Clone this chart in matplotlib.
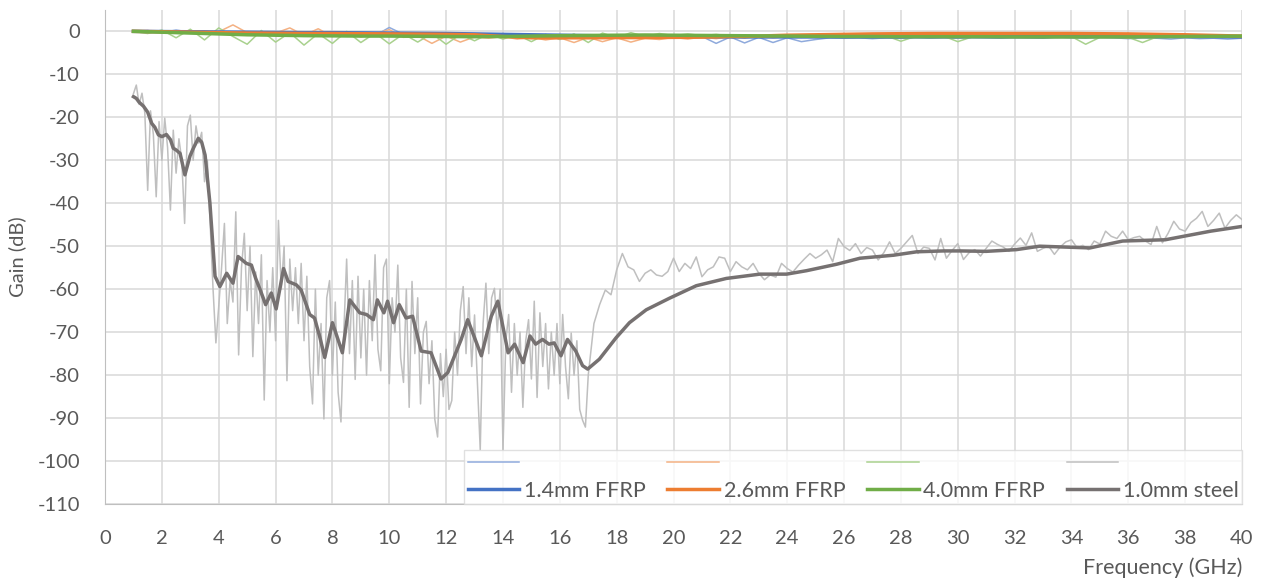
import matplotlib
matplotlib.use("Agg")
import matplotlib.pyplot as plt
import numpy as np

# ---- data ----
# FFRP raw traces, 1.0 .. 40.0 GHz every 0.5 GHz
ffrp14_raw = [0.0, 0.2, -0.3, 0.3, -0.2, 0.1, -0.5, -0.2, -0.6, -0.3,
              -0.8, -0.4, -0.9, -0.5, -0.6, -0.9, -0.4, -1.0, 0.9, -0.7,
              -0.8, -1.1, -0.6, -1.3, -0.8, -1.2, -0.9, -1.4, -1.0, -1.5,
              -1.1, -1.3, -1.0, -1.4, -1.1, -1.5, -1.2, -1.4, -1.3, -1.5,
              -1.2, -2.8, -1.3, -2.7, -1.4, -2.6, -1.5, -2.4, -1.9, -1.5,
              -1.6, -1.5, -1.7, -1.5, -1.6, -1.4, -1.6, -1.5, -1.6, -1.4,
              -1.5, -1.6, -1.4, -1.5, -1.6, -1.3, -1.5, -1.6, -1.4, -1.5,
              -1.7, -1.5, -1.6, -1.8, -1.5, -1.7, -1.6, -1.8, -1.6]
ffrp26_raw = [0.0, -0.2, 0.1, -0.4, 0.2, -0.6, -0.1, 1.5, -0.3, -0.9,
              -0.4, 0.8, -0.9, 0.6, -1.2, -0.5, -1.3, -0.6, 0.4, -1.4,
              -1.0, -2.8, -1.1, -2.5, -1.3, -1.6, -1.2, -1.8, -1.4, -2.0,
              -1.5, -2.6, -1.4, -2.4, -1.5, -2.5, -1.6, -1.9, -1.4, -1.8,
              -1.3, -1.7, -1.2, -1.6, -1.1, -1.5, -1.2, -1.4, -1.0, -1.3,
              -0.9, -1.2, -0.8, -1.1, -0.7, -1.0, -0.6, -0.9, -0.6, -0.8,
              -0.5, -0.9, -0.6, -0.8, -0.5, -0.9, -0.6, -0.8, -0.7, -1.0,
              -1.6, -0.9, -1.2, -1.0, -1.3, -1.1, -1.4, -1.2, -1.5]
ffrp40_raw = [0.0, -0.5, 0.3, -1.5, 0.5, -2.0, 0.8, -1.2, -3.0, 0.2,
              -2.5, -0.3, -3.2, -0.5, -2.8, 0.0, -2.6, -0.4, -2.9, -0.6,
              -2.5, -0.5, -3.0, -0.7, -2.2, -0.6, -1.8, -0.8, -2.4, -0.7,
              -1.9, -0.6, -2.6, -0.4, -1.5, -0.3, -1.2, -0.5, -1.0, -0.6,
              -1.0, -0.7, -1.1, -0.8, -1.2, -0.9, -1.2, -1.0, -1.3, -1.1,
              -1.2, -1.0, -1.3, -1.1, -2.3, -1.2, -1.4, -1.1, -2.4, -1.3,
              -1.2, -1.4, -1.3, -1.2, -1.4, -1.3, -1.2, -3.0, -1.4, -1.3,
              -1.4, -2.6, -1.3, -1.2, -1.4, -1.1, -1.3, -1.2, -1.1]

# FFRP smoothed traces, 1 .. 40 GHz every 1 GHz
ffrp14_avg = [0.0, -0.05, -0.1, -0.15, -0.2, -0.25, -0.3, -0.3, -0.35, -0.4,
              -0.45, -0.5, -0.6, -0.7, -0.8, -0.9, -1.0, -1.1, -1.15, -1.2,
              -1.25, -1.3, -1.3, -1.3, -1.3, -1.3, -1.3, -1.3, -1.25, -1.25,
              -1.25, -1.25, -1.25, -1.2, -1.2, -1.2, -1.2, -1.2, -1.25, -1.3]
ffrp26_avg = [0.0, -0.1, -0.2, -0.3, -0.4, -0.45, -0.5, -0.5, -0.55, -0.6,
              -0.65, -0.7, -0.8, -1.2, -1.5, -1.5, -1.5, -1.45, -1.45, -1.4,
              -1.35, -1.2, -1.1, -0.9, -0.8, -0.7, -0.6, -0.55, -0.5, -0.5,
              -0.5, -0.5, -0.5, -0.5, -0.55, -0.6, -0.7, -0.8, -0.95, -1.1]
ffrp40_avg = [0.0, -0.2, -0.4, -0.6, -0.8, -0.9, -1.0, -1.05, -1.1, -1.1,
              -1.15, -1.2, -1.25, -1.2, -1.1, -1.0, -0.95, -0.9, -0.85, -0.9,
              -0.95, -1.0, -1.05, -1.1, -1.15, -1.2, -1.2, -1.25, -1.25, -1.25,
              -1.25, -1.3, -1.3, -1.3, -1.3, -1.3, -1.25, -1.2, -1.15, -1.1]

# steel raw trace, 1.0 .. 16.9 GHz every 0.1 GHz
steel_raw_lo = [-14.5, -12.5, -17.0, -14.4, -19.0, -37.0, -18.5, -24.0, -38.5, -21.0,
                -30.0, -20.2, -27.0, -41.6, -23.0, -33.0, -25.0, -30.0, -44.7, -22.0,
                -19.5, -30.0, -22.0, -26.0, -23.5, -35.0, -30.0, -45.0, -60.0, -72.5,
                -64.0, -55.0, -44.7, -68.0, -58.0, -63.0, -42.0, -75.3, -55.0, -47.0,
                -65.0, -50.0, -75.7, -56.0, -68.0, -52.0, -85.8, -58.0, -70.0, -55.0,
                -72.0, -44.0, -60.0, -50.0, -81.3, -53.0, -65.0, -55.0, -68.0, -54.0,
                -72.0, -57.0, -78.0, -86.7, -60.0, -80.0, -68.0, -90.2, -62.0, -58.0,
                -80.0, -63.0, -84.0, -90.9, -70.0, -53.0, -75.0, -58.0, -81.0, -57.0,
                -76.0, -60.0, -80.0, -58.0, -72.0, -52.0, -74.0, -79.0, -55.0, -53.0,
                -82.0, -62.0, -70.0, -54.4, -76.0, -81.7, -60.0, -87.5, -58.2, -75.0,
                -62.0, -86.7, -70.0, -67.5, -82.0, -72.0, -90.2, -94.4, -75.0, -85.0,
                -74.0, -88.0, -85.9, -70.0, -80.0, -65.0, -59.4, -75.0, -62.0, -78.0,
                -66.0, -82.0, -97.4, -68.0, -58.6, -75.0, -62.0, -59.8, -70.0, -60.0,
                -97.4, -72.0, -65.9, -84.0, -68.0, -80.0, -70.0, -87.5, -72.0, -67.1,
                -80.9, -62.8, -85.2, -65.5, -78.0, -68.0, -83.2, -70.0, -80.0, -68.0,
                -82.0, -65.9, -78.0, -85.5, -70.2, -80.0, -72.0, -88.0, -90.5, -92.1]
# steel raw trace, 17.0 .. 40.0 GHz every 0.2 GHz
steel_raw_hi = [-80.0, -68.0, -63.6, -60.2, -61.3, -55.5, -51.7, -54.8, -55.5, -58.2,
                -56.3, -55.5, -56.7, -57.0, -55.9, -52.8, -55.9, -54.0, -55.2, -52.5,
                -57.1, -55.5, -54.8, -52.5, -52.8, -55.9, -53.6, -54.8, -55.5, -54.0,
                -56.3, -57.8, -56.7, -57.2, -54.0, -55.2, -56.0, -54.4, -53.0, -51.7,
                -52.8, -52.0, -50.9, -53.6, -48.2, -50.1, -51.0, -49.4, -51.7, -50.3,
                -50.9, -53.2, -51.5, -49.0, -51.7, -50.5, -49.0, -47.5, -51.7, -50.2,
                -50.5, -53.2, -48.2, -52.8, -51.0, -49.4, -53.1, -51.5, -50.8, -52.3,
                -50.5, -48.8, -49.6, -50.2, -51.2, -49.5, -48.1, -49.8, -46.9, -51.2,
                -50.5, -50.0, -51.9, -50.2, -49.0, -48.5, -50.4, -49.8, -50.8, -48.8,
                -49.5, -46.5, -47.7, -48.2, -46.5, -48.5, -48.0, -47.7, -48.8, -49.6,
                -45.4, -49.2, -47.0, -44.2, -46.0, -46.5, -44.5, -43.5, -41.9, -45.4,
                -44.0, -42.3, -45.8, -44.0, -42.7, -43.8]

# steel smoothed trace (frequency, gain)
steel_avg_f = [1.0, 1.1, 1.2, 1.35, 1.5, 1.64, 1.75, 1.88, 2.0, 2.16,
               2.3, 2.4, 2.5, 2.64, 2.81, 2.99, 3.1, 3.28, 3.4, 3.52,
               3.69, 3.87, 4.04, 4.28, 4.5, 4.68, 4.97, 5.15, 5.3, 5.45,
               5.65, 5.85, 6.02, 6.28, 6.44, 6.73, 6.9, 7.2, 7.37, 7.55,
               7.73, 8.0, 8.35, 8.61, 8.96, 9.2, 9.44, 9.58, 9.81, 9.94,
               10.15, 10.35, 10.59, 10.82, 11.12, 11.47, 11.82, 12.06, 12.53, 12.76,
               13.24, 13.59, 13.82, 14.18, 14.41, 14.71, 14.95, 15.15, 15.39, 15.62,
               15.8, 16.04, 16.27, 16.56, 16.8, 16.98, 17.39, 17.98, 18.45, 19.04,
               19.86, 20.8, 21.86, 23.04, 23.98, 24.68, 25.74, 26.56, 27.74, 28.56,
               29.5, 30.1, 31.0, 32.06, 32.88, 34.65, 35.8, 37.3, 38.9, 40.0]
steel_avg_db = [-15.2, -15.6, -16.5, -17.4, -18.8, -21.4, -22.3, -24.1, -24.5, -24.0,
                -25.2, -27.2, -27.6, -28.4, -33.4, -29.0, -27.3, -24.9, -25.8, -28.8,
                -40.0, -57.0, -59.4, -56.3, -58.6, -52.4, -54.0, -54.4, -57.5, -60.0,
                -63.6, -60.9, -64.6, -55.2, -58.2, -59.0, -60.2, -65.9, -66.7, -71.0,
                -75.9, -67.8, -74.8, -62.5, -65.5, -65.9, -67.1, -62.5, -65.5, -62.8,
                -67.8, -63.6, -66.7, -66.3, -74.4, -74.8, -80.9, -79.4, -71.7, -67.1,
                -75.5, -66.3, -62.8, -74.8, -72.8, -77.1, -70.9, -72.8, -71.7, -72.8,
                -72.5, -75.5, -71.7, -74.4, -77.8, -78.6, -76.3, -71.3, -67.8, -64.8,
                -62.1, -59.2, -57.5, -56.5, -56.5, -55.7, -54.2, -52.8, -52.1, -51.3,
                -51.1, -51.1, -51.2, -50.8, -50.0, -50.4, -48.8, -48.5, -46.5, -45.4]

labels = ["1.4mm FFRP", "2.6mm FFRP", "4.0mm FFRP", "1.0mm steel"]
x_ticks = list(range(0, 41, 2))
y_ticks = list(range(-110, 1, 10))

# ---- sample frequencies ----
f_ffrp_raw = 1.0 + 0.5 * np.arange(len(ffrp14_raw))
f_ffrp_avg = np.arange(1, len(ffrp14_avg) + 1)
f_steel_raw = np.concatenate([1.0 + 0.1 * np.arange(len(steel_raw_lo)),
                              17.0 + 0.2 * np.arange(len(steel_raw_hi))])
steel_raw = steel_raw_lo + steel_raw_hi

plt.rcParams['font.family'] = ['Lato', 'DejaVu Sans']
plt.rcParams['axes.unicode_minus'] = False
txt = '#595959'
fs = 14.5

fig = plt.figure(figsize=(12.64, 5.8), dpi=100)
ax = fig.add_axes([0.0831, 0.131, 0.8995, 0.852])

raw_w = 1.1
avg_w = 2.5
r1, = ax.plot(f_ffrp_raw, ffrp14_raw, color='#8FAADC', lw=raw_w)
r2, = ax.plot(f_ffrp_raw, ffrp26_raw, color='#F4B183', lw=raw_w)
r3, = ax.plot(f_ffrp_raw, ffrp40_raw, color='#A9D18E', lw=raw_w)
r4, = ax.plot(f_steel_raw, steel_raw, color='#BFBFBF', lw=raw_w)
a1, = ax.plot(f_ffrp_avg, ffrp14_avg, color='#4472C4', lw=avg_w)
a2, = ax.plot(f_ffrp_avg, ffrp26_avg, color='#ED7D31', lw=avg_w)
a3, = ax.plot(f_ffrp_avg, ffrp40_avg, color='#70AD47', lw=avg_w)
a4, = ax.plot(steel_avg_f, steel_avg_db, color='#767171', lw=avg_w)

ax.set_xlim(0, 40)
ax.set_ylim(-110, 5)
ax.set_xticks(x_ticks)
ax.set_yticks(y_ticks)
ax.grid(True, color='#D9D9D9', lw=1.1)
ax.set_axisbelow(True)
for s in ['top', 'right']:
    ax.spines[s].set_visible(False)
for s in ['left', 'bottom']:
    ax.spines[s].set_color('#BFBFBF')
ax.tick_params(length=0, labelsize=fs, labelcolor=txt)
ax.tick_params(axis='y', pad=18)
ax.tick_params(axis='x', pad=19)

ax.set_ylabel('Gain (dB)', fontsize=fs, color=txt, labelpad=8)
ax.set_xlabel('Frequency (GHz)', fontsize=15.5, color=txt, loc='right', labelpad=7)

leg = ax.legend([r1, a1, r2, a2, r3, a3, r4, a4],
                ['', labels[0], '', labels[1], '', labels[2], '', labels[3]],
                ncol=4, loc='lower right', bbox_to_anchor=(1.0, 0.0),
                borderaxespad=0, fontsize=15.5, frameon=True, fancybox=False,
                handlelength=2.4, handletextpad=0.22, columnspacing=1.0,
                labelspacing=0.35, borderpad=0.15)
leg.get_frame().set_edgecolor('#D9D9D9')
leg.get_frame().set_linewidth(1)
for t in leg.get_texts():
    t.set_color(txt)

fig.savefig('out.png', dpi=100)
